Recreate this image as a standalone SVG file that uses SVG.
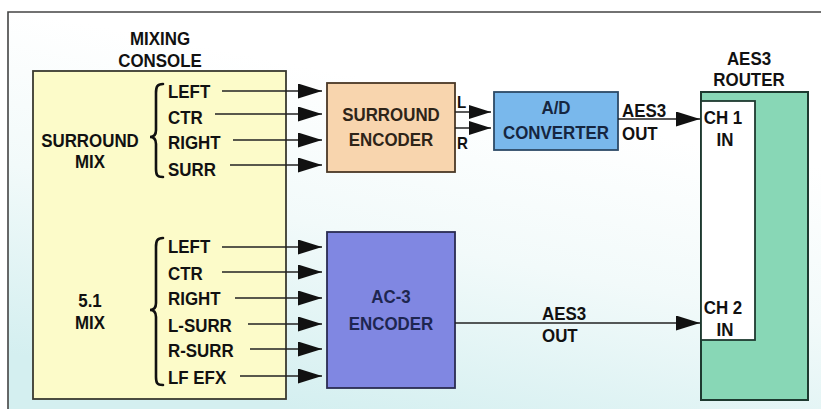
<svg xmlns="http://www.w3.org/2000/svg" width="821" height="409" viewBox="0 0 821 409">
  <defs>
    <linearGradient id="bg" x1="0.65" y1="0.25" x2="0.35" y2="1">
      <stop offset="0" stop-color="#ffffff"/>
      <stop offset="0.45" stop-color="#f2fafa"/>
      <stop offset="1" stop-color="#d4eff0"/>
    </linearGradient>
    <marker id="ah" markerUnits="userSpaceOnUse" markerWidth="24" markerHeight="15" refX="24" refY="7.5" orient="auto">
      <path d="M0,0 L24,7.5 L0,15 Z" fill="#111"/>
    </marker>
    <marker id="ahs" markerUnits="userSpaceOnUse" markerWidth="22" markerHeight="14" refX="22" refY="7" orient="auto">
      <path d="M0,0 L22,7 L0,14 Z" fill="#111"/>
    </marker>
  </defs>
  <style>
    text { font-family: "Liberation Sans", Arial, sans-serif; font-weight: bold; font-size: 19px; fill: #111;
           transform: scaleX(0.89); transform-box: fill-box; transform-origin: 0% 50%; }
    .c { text-anchor: middle; transform-origin: 50% 50%; }
    .lbl { font-size: 17px; }
    .wire { stroke: #222; stroke-width: 1.6; fill: none; }
    .brace { stroke: #111; stroke-width: 2.6; fill: none; stroke-linecap: round; }
    .box { stroke-width: 1.8; }
  </style>

  <rect x="0" y="0" width="821" height="409" fill="#ffffff"/>
  <rect x="8" y="12" width="813" height="397" fill="url(#bg)"/>
  <path d="M8,409 L8,12 L821,12" fill="none" stroke="#444" stroke-width="1.6"/>

  <g id="mixing-console">
    <rect class="box" x="33" y="71" width="253" height="328" fill="#fcfbc9" stroke="#3a3a30"/>
    <text class="c" x="160" y="45">MIXING</text>
    <text class="c" x="160" y="67">CONSOLE</text>
    <text class="c" x="90" y="147">SURROUND</text>
    <text class="c" x="90" y="168">MIX</text>
    <path class="brace" d="M163,84 C157,84 156,87 156,93 L156,130 C156,135 154,137 150,137 C154,137 156,139 156,144 L156,169 C156,175 157,177 163,177"/>
    <text x="168" y="98">LEFT</text>
    <text x="168" y="124">CTR</text>
    <text x="168" y="149">RIGHT</text>
    <text x="168" y="176">SURR</text>
    <text class="c" x="90" y="307">5.1</text>
    <text class="c" x="90" y="329">MIX</text>
    <path class="brace" d="M163,238 C157,238 156,241 156,247 L156,303 C156,308 154,310 150,310 C154,310 156,312 156,317 L156,377 C156,383 157,385 163,385"/>
    <text x="168" y="253">LEFT</text>
    <text x="168" y="280">CTR</text>
    <text x="168" y="305">RIGHT</text>
    <text x="168" y="332">L-SURR</text>
    <text x="168" y="357">R-SURR</text>
    <text x="168" y="384">LF EFX</text>
  </g>

  <g id="surround-encoder">
    <rect class="box" x="327" y="83" width="128" height="89" fill="#f8d5ae" stroke="#4a3826"/>
    <text class="c" x="391" y="121" style="fill:#2e2418">SURROUND</text>
    <text class="c" x="391" y="146" style="fill:#2e2418">ENCODER</text>
    <text class="lbl" x="457" y="108">L</text>
    <text class="lbl" x="457" y="149">R</text>
  </g>

  <g id="ad-converter">
    <rect class="box" x="494" y="92" width="124" height="58" fill="#79b8ec" stroke="#2d4a66"/>
    <text class="c" x="556" y="114" style="fill:#162640">A/D</text>
    <text class="c" x="556" y="139" style="fill:#162640">CONVERTER</text>
  </g>

  <g id="ac3-encoder">
    <rect class="box" x="327" y="232" width="128" height="156" fill="#8087e2" stroke="#2a2c52"/>
    <text class="c" x="391" y="303" style="fill:#1e2650">AC-3</text>
    <text class="c" x="391" y="330" style="fill:#1e2650">ENCODER</text>
  </g>

  <g id="aes3-router">
    <rect x="701" y="92" width="107" height="308" fill="#88d7b6" stroke="#1e3a30" stroke-width="2"/>
    <rect x="701" y="101" width="54" height="239" fill="#ffffff" stroke="#1e3a30" stroke-width="1.8"/>
    <text class="c" x="749" y="65">AES3</text>
    <text class="c" x="749" y="86">ROUTER</text>
    <text class="c" x="723" y="124">CH 1</text>
    <text class="c" x="725" y="146">IN</text>
    <text class="c" x="723" y="314">CH 2</text>
    <text class="c" x="725" y="336">IN</text>
  </g>

  <g id="connectors">
    <line class="wire" x1="222" y1="91" x2="322" y2="91" marker-end="url(#ah)"/>
    <line class="wire" x1="215" y1="114" x2="322" y2="114" marker-end="url(#ah)"/>
    <line class="wire" x1="233" y1="140" x2="322" y2="140" marker-end="url(#ah)"/>
    <line class="wire" x1="230" y1="165" x2="322" y2="165" marker-end="url(#ah)"/>

    <line class="wire" x1="455" y1="112" x2="491" y2="112" marker-end="url(#ahs)"/>
    <line class="wire" x1="455" y1="128" x2="491" y2="128" marker-end="url(#ahs)"/>

    <line class="wire" x1="618" y1="119" x2="700" y2="119" marker-end="url(#ah)"/>
    <text x="622" y="117">AES3</text>
    <text x="622" y="140">OUT</text>

    <line class="wire" x1="222" y1="247" x2="322" y2="247" marker-end="url(#ah)"/>
    <line class="wire" x1="222" y1="272" x2="322" y2="272" marker-end="url(#ah)"/>
    <line class="wire" x1="235" y1="298" x2="322" y2="298" marker-end="url(#ah)"/>
    <line class="wire" x1="248" y1="324" x2="322" y2="324" marker-end="url(#ah)"/>
    <line class="wire" x1="250" y1="349" x2="322" y2="349" marker-end="url(#ah)"/>
    <line class="wire" x1="240" y1="376" x2="322" y2="376" marker-end="url(#ah)"/>

    <line class="wire" x1="455" y1="323" x2="700" y2="323" marker-end="url(#ah)"/>
    <text x="542" y="320">AES3</text>
    <text x="542" y="342">OUT</text>
  </g>
</svg>
